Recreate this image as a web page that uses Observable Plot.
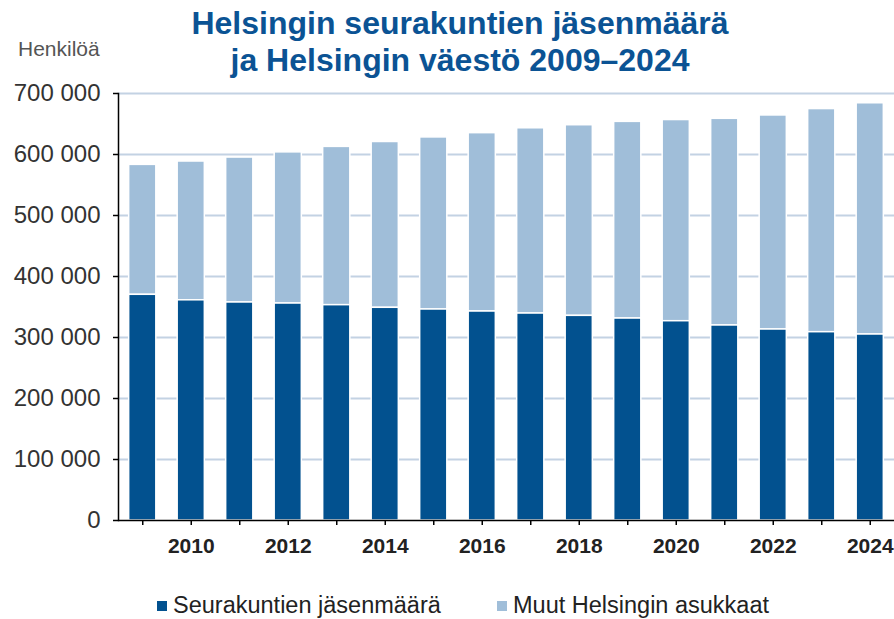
<!DOCTYPE html>
<html><head><meta charset="utf-8">
<script src="https://cdn.jsdelivr.net/npm/d3@7"></script>
<script src="https://cdn.jsdelivr.net/npm/@observablehq/plot@0.6"></script>
<style>
body{margin:0;background:#fff;font-family:"Liberation Sans",Arial,sans-serif;}
#wrap{position:relative;width:894px;height:619px;overflow:hidden;}
#chart{position:absolute;left:0;top:0;}
#title{position:absolute;left:0;top:5px;width:920px;text-align:center;font-weight:bold;font-size:32px;line-height:37px;color:#0b5394;}
#unit{position:absolute;left:18px;top:37px;font-size:21px;color:#555;}
.item{position:absolute;top:592px;display:flex;align-items:center;font-size:23.5px;color:#222;white-space:nowrap;}
.sw{width:10px;height:10px;margin-right:6px;}
</style></head><body>
<div id="wrap">
<div id="chart"></div>
<div id="title">Helsingin seurakuntien jäsenmäärä<br>ja Helsingin väestö 2009–2024</div>
<div id="unit">Henkilöä</div>
<div class="item" style="left:157px"><span class="sw" style="background:#02518f"></span>Seurakuntien jäsenmäärä</div>
<div class="item" style="left:497px"><span class="sw" style="background:#a0bed9"></span>Muut Helsingin asukkaat</div>
</div>
<script>
const years = [2009, 2010, 2011, 2012, 2013, 2014, 2015, 2016, 2017, 2018, 2019, 2020, 2021, 2022, 2023, 2024];
const members = [370000, 361000, 357400, 355700, 353000, 348700, 345900, 342600, 339300, 335500, 331100, 326700, 319700, 313100, 308700, 304900];
const population = [583000, 588500, 595000, 603500, 612500, 620500, 628000, 635000, 643000, 648000, 653500, 656500, 658500, 664000, 674500, 684000];
const yTicks = [0, 100000, 200000, 300000, 400000, 500000, 600000, 700000];
const seriesNames = ["Seurakuntien jäsenmäärä", "Muut Helsingin asukkaat"];
const colors = ["#02518f", "#a0bed9"];

const rows = years.map((year, i) => ({year, members: members[i], population: population[i]}));
const fmt = d => d3.format(",")(d).replace(/,/g, "\u00a0");

const chart = Plot.plot({
  width: 894, height: 570,
  marginLeft: 118, marginRight: 0, marginTop: 93, marginBottom: 50,
  style: {fontFamily: '"Liberation Sans", Arial, sans-serif', background: "transparent", overflow: "visible"},
  x: {type: "band", domain: years, paddingInner: 0.44, paddingOuter: 0.22, round: false},
  y: {domain: [0, 700000]},
  marks: [
    Plot.ruleY(yTicks.filter(d => d > 0), {stroke: "#c3d2e3", strokeWidth: 2}),
    Plot.barY(rows, {x: "year", y1: "members", y2: "population", fill: colors[1], stroke: "white", strokeWidth: 1.5}),
    Plot.barY(rows, {x: "year", y1: 0, y2: "members", fill: colors[0], stroke: "white", strokeWidth: 1.5}),
    Plot.axisY({ticks: yTicks, tickSize: 5, tickPadding: 13, tickFormat: fmt, fontSize: 24, fill: "#333", stroke: "#000", strokeWidth: 1.5, label: null}),
    Plot.axisX({tickSize: 5, tickPadding: 13, tickFormat: d => d % 2 === 0 ? String(d) : "", fontSize: 21, fontWeight: "bold", fill: "#222", stroke: "#000", strokeWidth: 1.5, label: null}),
    Plot.ruleY([0], {stroke: "#000", strokeWidth: 1.5}),
    Plot.frame({anchor: "left", stroke: "#000", strokeWidth: 1.5})
  ]
});
document.getElementById("chart").appendChild(chart);
</script>
</body></html>
